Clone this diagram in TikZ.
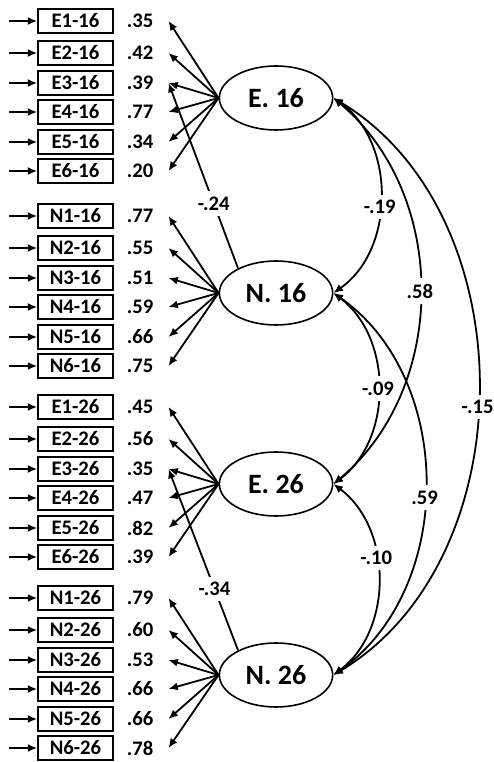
\documentclass[tikz,border=0pt]{standalone}
\usepackage{fontspec}
\setmainfont{Carlito}
\usetikzlibrary{arrows.meta,calc,shapes.geometric}

\begin{document}
\begin{tikzpicture}[x=0.75pt,y=0.75pt,
    every node/.style={font=\bfseries\fontsize{15.5}{18}\selectfont},
    indicator/.style={draw,line width=1.5pt,minimum width=56pt,minimum height=18.5pt,inner sep=0pt},
    factor/.style={draw,ellipse,line width=1.2pt,minimum width=85pt,minimum height=48pt,inner sep=0pt,
        font=\bfseries\fontsize{21}{24}\selectfont},
    loading/.style={line width=1.35pt,-{Latex[length=7pt,width=6pt]}},
    covar/.style={line width=1.35pt,{Latex[length=7pt,width=6pt]}-{Latex[length=7pt,width=6pt]}},
    coef/.style={fill=white,inner xsep=1.5pt,inner ysep=4pt}
]
    \useasboundingbox (0,0) rectangle (493,762);

    % latent factors
    \node[factor] (E16) at (276,664) {E. 16};
    \node[factor] (N16) at (276,469) {N. 16};
    \node[factor] (E26) at (276,278) {E. 26};
    \node[factor] (N26) at (276,87) {N. 26};

    % indicators with loadings
    \foreach \f/\a/\b/\vals in {E16/E/16/{.35,.42,.39,.77,.34,.20},
                                N16/N/16/{.77,.55,.51,.59,.66,.75},
                                E26/E/26/{.45,.56,.35,.47,.82,.39},
                                N26/N/26/{.79,.60,.53,.66,.66,.78}}{
        \foreach \v [count=\i] in \vals {
            \pgfmathsetmacro{\dy}{{77,45,15,-14,-44,-73}[\i-1]}
            \node[indicator] (\a\i-\b) at ($(\f.center)+(-200.5,\dy)$) {\a\i-\b};
            \node (v\a\i-\b) at ($(\a\i-\b)+(64.5,0)$) {\v};
            \coordinate (t\a\i-\b) at ($(\a\i-\b)+(93,0)$);
            \coordinate (in\a\i-\b) at ($(\a\i-\b.west)+(-28,0)$);
            \draw[loading] (in\a\i-\b) -- (\a\i-\b.west);
            \draw[loading] (\f.west) -- (t\a\i-\b);
        }
    }

    % cross loadings
    \draw[loading] (N16.147) -- (tE3-16) node[coef,pos=0.35] {-.24};
    \draw[loading] (N26.147) -- (tE3-26) node[coef,pos=0.34] {-.34};

    % covariances
    \draw[covar] (E16.east) to[out=-31,in=31] node[coef,pos=0.53] {-.15} (N26.east);
    \draw[covar] (E16.east) to[out=-40,in=40] node[coef] {.58} (E26.east);
    \draw[covar] (N16.east) to[out=-35,in=35] node[coef,pos=0.53] {.59} (N26.east);
    \draw[covar] (E16.east) to[out=-35,in=35] node[coef,pos=0.55] {-.19} (N16.east);
    \draw[covar] (N16.east) to[out=-37,in=37] node[coef] {-.09} (E26.east);
    \draw[covar] (E26.east) to[out=-37,in=37] node[coef,pos=0.4] {-.10} (N26.east);
\end{tikzpicture}
\end{document}
